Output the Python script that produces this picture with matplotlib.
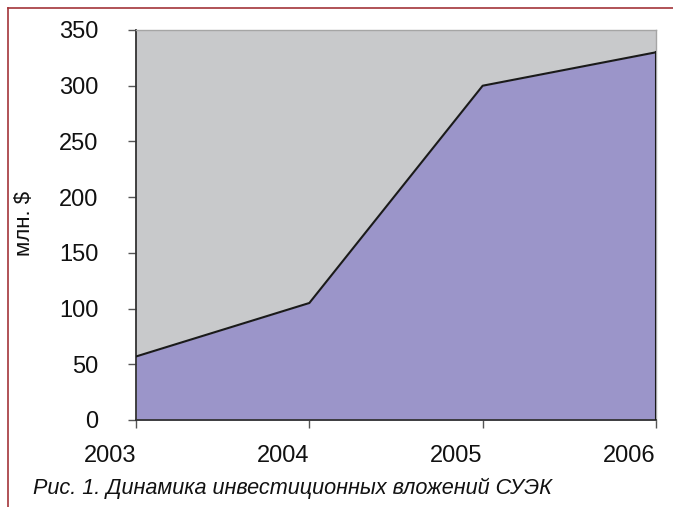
import matplotlib
matplotlib.use("Agg")
import matplotlib.pyplot as plt
from matplotlib.lines import Line2D

years = [2003, 2004, 2005, 2006]
investments = [57, 105, 300, 330]
y_ticks = [0, 50, 100, 150, 200, 250, 300, 350]
y_label = "млн. $"
caption = "Рис. 1. Динамика инвестиционных вложений СУЭК"

plt.rcParams['font.family'] = ['Liberation Sans', 'DejaVu Sans']

W, H = 673, 507
fig = plt.figure(figsize=(W / 100, H / 100), dpi=100)
fig.patch.set_facecolor('white')

ax = fig.add_axes([136 / W, 1 - 420 / H, (656 - 136) / W, (420 - 30) / H])
ax.set_facecolor('#c8c9cb')

ax.fill_between(years, investments, 0, color='#9b95c9', linewidth=0, zorder=2)
ax.plot(years, investments, color='#1a1a1a', linewidth=1.5, zorder=3)
ax.plot([years[-1], years[-1]], [0, investments[-1]], color='#1a1a1a', linewidth=1.5, zorder=3)

ax.set_xlim(years[0], years[-1])
ax.set_ylim(0, 350)
ax.set_xticks(years)
ax.set_xticklabels([str(y) for y in years], ha='right')
ax.set_yticks(y_ticks)

for s in ['left', 'bottom']:
    ax.spines[s].set_color('#333333')
    ax.spines[s].set_linewidth(1.3)
for s in ['top', 'right']:
    ax.spines[s].set_color('#a5a5a5')
    ax.spines[s].set_linewidth(1.0)

ax.tick_params(axis='y', direction='out', length=6, width=1, color='#555555',
               pad=21, labelsize=17, labelcolor='#111111')
ax.tick_params(axis='x', direction='out', length=6, width=1, color='#555555',
               pad=12, labelsize=17, labelcolor='#111111')

fig.text(25 / W, 1 - 223 / H, y_label, rotation=90, ha='center', va='center',
         fontsize=16, color='#111111')
fig.text(33 / W, 1 - 488 / H, caption, ha='left', va='center',
         fontsize=15.6, style='italic', color='#111111')

border_color = '#a3353a'
fig.add_artist(Line2D([7.5 / W, 7.5 / W], [0, 1 - 7.5 / H], transform=fig.transFigure,
                      color=border_color, linewidth=1.2))
fig.add_artist(Line2D([7.5 / W, 1], [1 - 7.5 / H, 1 - 7.5 / H], transform=fig.transFigure,
                      color=border_color, linewidth=1.2))

fig.savefig('out.png', dpi=100)
